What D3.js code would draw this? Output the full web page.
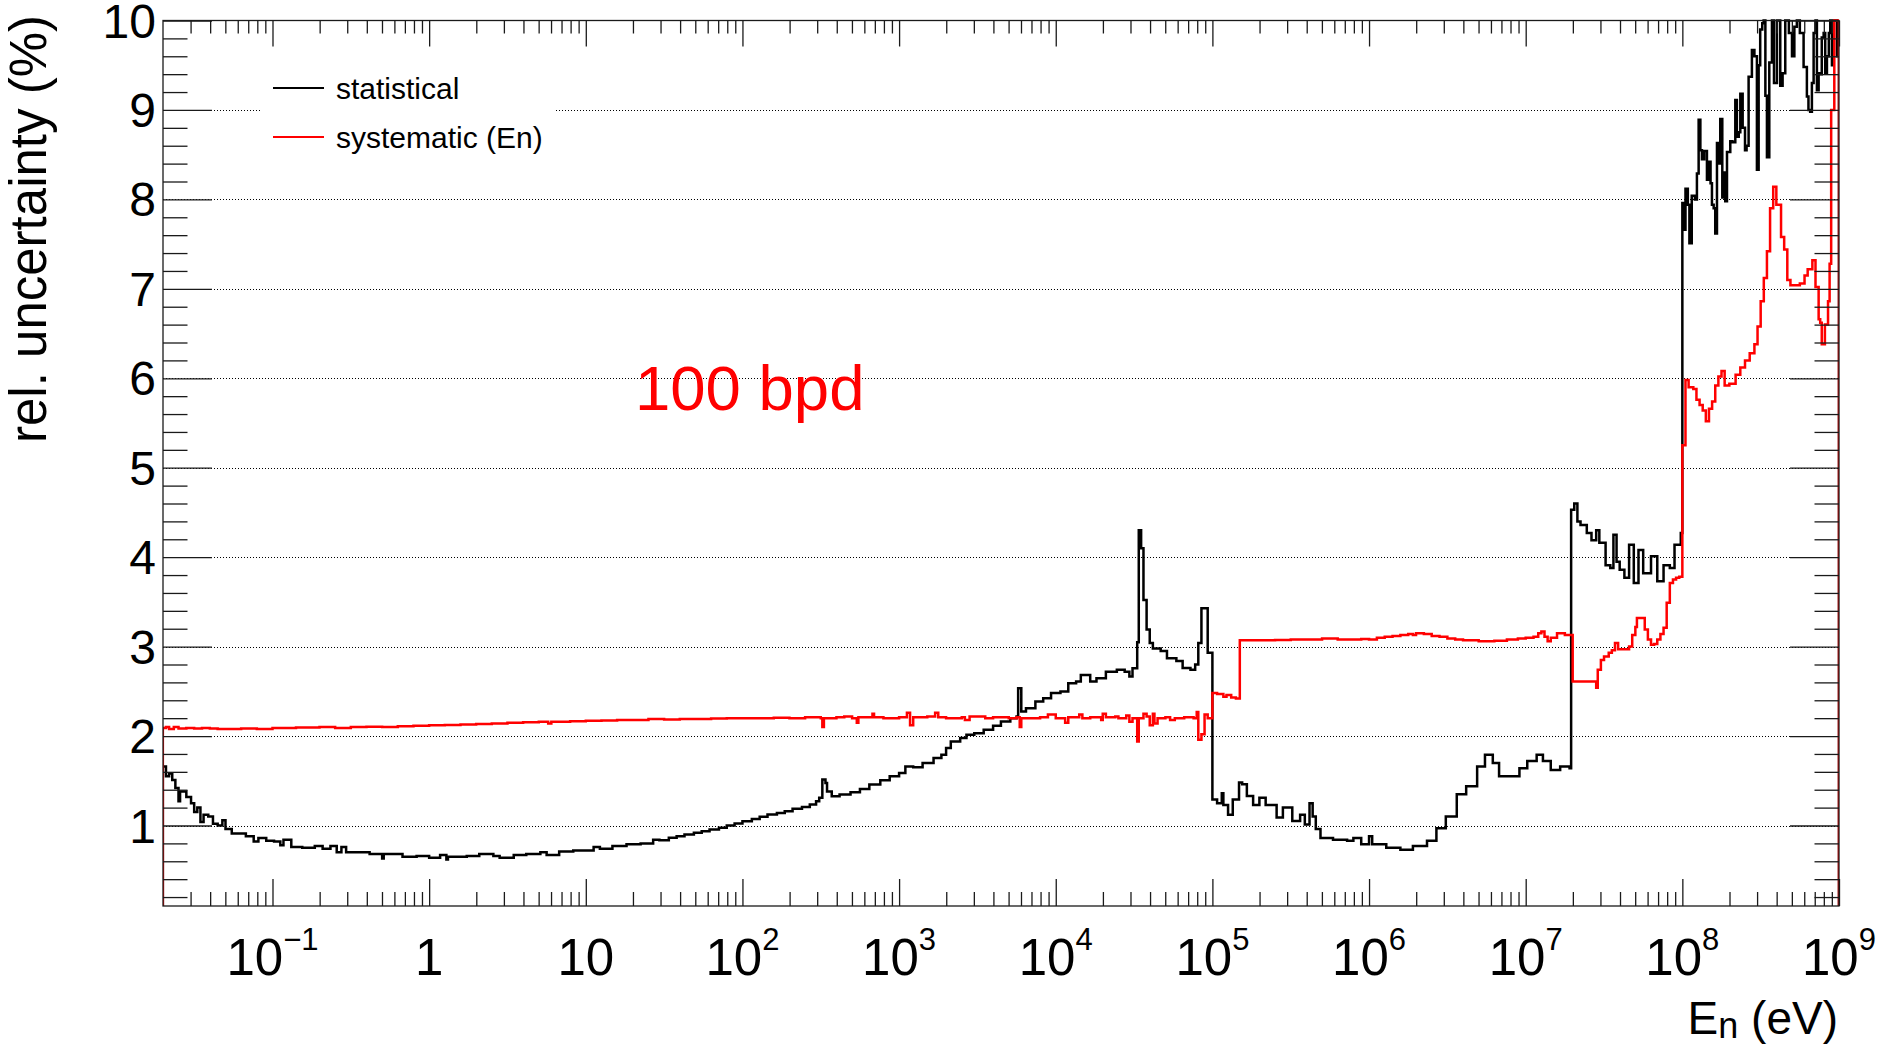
<!DOCTYPE html>
<html>
<head>
<meta charset="utf-8">
<script src="https://cdn.jsdelivr.net/npm/d3@7"></script>
<style>
  body { margin: 0; background: #fff; }
  svg { display: block; font-family: "Liberation Sans", Arial, Helvetica, sans-serif; }
</style>
</head>
<body>
<div class="js-chart"></div>
<script>
// [log10(E / eV) of bin lower edge, relative uncertainty in %]
let statistical = [
  [-1.70, 1.66], [-1.68, 1.55], [-1.66, 1.58], [-1.64, 1.51], [-1.62, 1.42], [-1.60, 1.27], [-1.59, 1.38],
  [-1.55, 1.32], [-1.52, 1.25], [-1.50, 1.15], [-1.48, 1.20], [-1.46, 1.04], [-1.44, 1.12], [-1.41, 1.10],
  [-1.38, 1.02], [-1.35, 1.00], [-1.32, 1.06], [-1.30, 0.96], [-1.26, 0.91], [-1.21, 0.91], [-1.17, 0.88],
  [-1.12, 0.82], [-1.09, 0.86], [-1.04, 0.83], [-0.99, 0.82], [-0.95, 0.78], [-0.93, 0.84], [-0.88, 0.76],
  [-0.81, 0.75], [-0.73, 0.77], [-0.68, 0.74], [-0.63, 0.77], [-0.59, 0.70], [-0.56, 0.76], [-0.53, 0.70],
  [-0.45, 0.70], [-0.38, 0.68], [-0.30, 0.63], [-0.29, 0.68], [-0.23, 0.68], [-0.17, 0.65], [-0.08, 0.66],
  [0.00, 0.64], [0.07, 0.67], [0.11, 0.62], [0.12, 0.65], [0.17, 0.65], [0.24, 0.66], [0.32, 0.68],
  [0.41, 0.66], [0.45, 0.64], [0.54, 0.67], [0.62, 0.68], [0.71, 0.70], [0.75, 0.67], [0.83, 0.71],
  [0.92, 0.72], [1.00, 0.72], [1.05, 0.76], [1.09, 0.74], [1.17, 0.77], [1.26, 0.79], [1.35, 0.80],
  [1.43, 0.84], [1.47, 0.836], [1.53, 0.862], [1.58, 0.881], [1.63, 0.90], [1.69, 0.918], [1.74, 0.937],
  [1.79, 0.955], [1.85, 0.974], [1.90, 1.00], [1.95, 1.022], [2.00, 1.048], [2.06, 1.074], [2.11, 1.097],
  [2.16, 1.123], [2.22, 1.141], [2.27, 1.16], [2.32, 1.186], [2.38, 1.208], [2.43, 1.234], [2.47, 1.271],
  [2.49, 1.31], [2.51, 1.513], [2.53, 1.476], [2.54, 1.38], [2.57, 1.327], [2.62, 1.346], [2.69, 1.372],
  [2.75, 1.409], [2.81, 1.457], [2.88, 1.506], [2.94, 1.55], [3.00, 1.587], [3.04, 1.66], [3.09, 1.65],
  [3.15, 1.70], [3.22, 1.755], [3.27, 1.79], [3.30, 1.866], [3.33, 1.94], [3.39, 1.978], [3.43, 2.015],
  [3.48, 2.03], [3.54, 2.07], [3.60, 2.115], [3.65, 2.164], [3.71, 2.20], [3.75, 2.22], [3.76, 2.535],
  [3.78, 2.275], [3.81, 2.31], [3.87, 2.387], [3.92, 2.424], [3.97, 2.48], [4.03, 2.498], [4.08, 2.59],
  [4.13, 2.61], [4.16, 2.684], [4.22, 2.61], [4.26, 2.647], [4.32, 2.72], [4.39, 2.74], [4.44, 2.72],
  [4.47, 2.665], [4.49, 2.758], [4.52, 3.05], [4.53, 4.30], [4.545, 4.10], [4.56, 3.52], [4.58, 3.19],
  [4.60, 3.04], [4.62, 2.98], [4.67, 2.95], [4.71, 2.87], [4.77, 2.84], [4.81, 2.76], [4.86, 2.74],
  [4.89, 2.80], [4.91, 3.04], [4.93, 3.43], [4.95, 3.43], [4.97, 2.93],
  [5.00, 1.29], [5.03, 1.25], [5.06, 1.36], [5.07, 1.23], [5.10, 1.12], [5.13, 1.29], [5.17, 1.48],
  [5.19, 1.46], [5.22, 1.33], [5.26, 1.23], [5.30, 1.31], [5.34, 1.23], [5.41, 1.09], [5.45, 1.20],
  [5.51, 1.05], [5.56, 1.12], [5.59, 1.01], [5.62, 1.25], [5.64, 1.10], [5.66, 0.96], [5.69, 0.86],
  [5.77, 0.84], [5.86, 0.83], [5.90, 0.86], [5.95, 0.79], [6.00, 0.88], [6.02, 0.79], [6.11, 0.75],
  [6.20, 0.73], [6.28, 0.77], [6.37, 0.83], [6.43, 0.97], [6.49, 1.10], [6.56, 1.35], [6.62, 1.44],
  [6.69, 1.66], [6.74, 1.79], [6.79, 1.70], [6.83, 1.55], [6.90, 1.55], [6.96, 1.64], [7.01, 1.72],
  [7.07, 1.79], [7.11, 1.72], [7.16, 1.62], [7.22, 1.66], [7.28, 1.64],
  [7.29, 4.53], [7.31, 4.60], [7.33, 4.40], [7.35, 4.36], [7.39, 4.27], [7.42, 4.19], [7.45, 4.30],
  [7.47, 4.16], [7.51, 3.91], [7.54, 3.88], [7.56, 4.25], [7.58, 3.95], [7.60, 3.86], [7.63, 3.77],
  [7.66, 4.14], [7.69, 3.71], [7.72, 4.08], [7.75, 3.82], [7.80, 4.01], [7.84, 3.73], [7.88, 3.91],
  [7.92, 3.88], [7.95, 4.14], [7.99, 4.27],
  [8.000, 7.96], [8.008, 7.66], [8.02, 8.12], [8.035, 7.94], [8.045, 7.51], [8.06, 8.04], [8.08, 8.00],
  [8.093, 8.29], [8.104, 8.89], [8.115, 8.55], [8.125, 8.45], [8.14, 8.54], [8.157, 8.22], [8.17, 8.42],
  [8.18, 8.18], [8.189, 7.94], [8.20, 7.90], [8.21, 7.62], [8.221, 8.63], [8.232, 8.40], [8.242, 8.90],
  [8.255, 8.02], [8.265, 8.30], [8.274, 7.98], [8.285, 8.53], [8.306, 8.65], [8.32, 8.64], [8.338, 9.11],
  [8.348, 8.70], [8.36, 8.75], [8.37, 9.18], [8.385, 8.80], [8.40, 8.55], [8.41, 8.60], [8.423, 9.37],
  [8.444, 9.67], [8.46, 9.60], [8.476, 8.33], [8.487, 9.50], [8.497, 9.90], [8.51, 9.97], [8.519, 10.0],
  [8.53, 9.16], [8.54, 8.47], [8.555, 9.53], [8.572, 10.0], [8.585, 9.30], [8.604, 10.0], [8.625, 9.27],
  [8.64, 9.41], [8.657, 10.0], [8.68, 9.86], [8.70, 9.60], [8.715, 9.93], [8.731, 10.0], [8.75, 9.86],
  [8.774, 9.48], [8.795, 9.15], [8.805, 9.00], [8.816, 8.98], [8.827, 9.30], [8.838, 9.86], [8.85, 10.0],
  [8.859, 9.22], [8.87, 9.41], [8.88, 9.40], [8.89, 9.81], [8.902, 9.86], [8.912, 9.41], [8.923, 9.60],
  [8.935, 9.86], [8.944, 10.0], [8.955, 9.50], [8.966, 10.0], [8.987, 9.60]
];

let systematic = [
  [-1.70, 2.09], [-1.68, 2.10], [-1.66, 2.08], [-1.63, 2.10], [-1.60, 2.085], [-1.55, 2.09], [-1.50, 2.085],
  [-1.45, 2.09], [-1.40, 2.085], [-1.35, 2.08], [-1.20, 2.085], [-1.10, 2.08], [-1.00, 2.09], [-0.85, 2.095],
  [-0.70, 2.10], [-0.60, 2.09], [-0.50, 2.10], [-0.40, 2.105], [-0.30, 2.10], [-0.20, 2.11], [-0.10, 2.115],
  [0.00, 2.12], [0.10, 2.125], [0.20, 2.13], [0.30, 2.135], [0.40, 2.14], [0.50, 2.15], [0.60, 2.155],
  [0.70, 2.16], [0.76, 2.14], [0.78, 2.16], [0.90, 2.165], [1.00, 2.17], [1.10, 2.175], [1.20, 2.18],
  [1.30, 2.18], [1.40, 2.19], [1.50, 2.185], [1.60, 2.19], [1.70, 2.19], [1.80, 2.195], [1.90, 2.20],
  [2.00, 2.20], [2.10, 2.20], [2.20, 2.205], [2.30, 2.20], [2.40, 2.21], [2.50, 2.20], [2.51, 2.10],
  [2.52, 2.20], [2.60, 2.21], [2.65, 2.22], [2.70, 2.20], [2.73, 2.15], [2.74, 2.21], [2.80, 2.21],
  [2.83, 2.25], [2.84, 2.21], [2.90, 2.20], [3.00, 2.21], [3.05, 2.26], [3.07, 2.12], [3.09, 2.21],
  [3.18, 2.22], [3.23, 2.26], [3.25, 2.21], [3.30, 2.20], [3.40, 2.21], [3.42, 2.18], [3.45, 2.22],
  [3.55, 2.20], [3.60, 2.21], [3.70, 2.20], [3.75, 2.21], [3.77, 2.10], [3.78, 2.20], [3.85, 2.20],
  [3.90, 2.21], [3.95, 2.24], [4.00, 2.20], [4.06, 2.15], [4.08, 2.21], [4.15, 2.24], [4.17, 2.20],
  [4.22, 2.21], [4.29, 2.18], [4.30, 2.25], [4.32, 2.21], [4.38, 2.22], [4.40, 2.20], [4.45, 2.23],
  [4.47, 2.16], [4.49, 2.20], [4.52, 1.94], [4.53, 2.20], [4.56, 2.25], [4.58, 2.22], [4.60, 2.12],
  [4.62, 2.25], [4.63, 2.14], [4.65, 2.20], [4.70, 2.21], [4.73, 2.18], [4.76, 2.20], [4.82, 2.21],
  [4.88, 2.20], [4.90, 2.27], [4.91, 1.96], [4.93, 2.02], [4.95, 2.24], [4.97, 2.20],
  [5.00, 2.48], [5.03, 2.47], [5.07, 2.44], [5.09, 2.46], [5.12, 2.43], [5.15, 2.42], [5.175, 3.07],
  [5.30, 3.07], [5.40, 3.075], [5.50, 3.08], [5.60, 3.08], [5.70, 3.09], [5.80, 3.08], [5.95, 3.085],
  [6.00, 3.08], [6.05, 3.10], [6.10, 3.11], [6.15, 3.12], [6.20, 3.13], [6.25, 3.14], [6.28, 3.13],
  [6.30, 3.15], [6.35, 3.14], [6.40, 3.12], [6.45, 3.11], [6.50, 3.09], [6.55, 3.08], [6.60, 3.07],
  [6.70, 3.06], [6.80, 3.065], [6.88, 3.08], [6.95, 3.09], [7.00, 3.10], [7.05, 3.11], [7.08, 3.15],
  [7.10, 3.17], [7.12, 3.11], [7.14, 3.06], [7.16, 3.10], [7.20, 3.15], [7.25, 3.13], [7.29, 3.13],
  [7.30, 2.61], [7.45, 2.54], [7.46, 2.74], [7.48, 2.85], [7.50, 2.89], [7.53, 2.93], [7.55, 2.96],
  [7.57, 3.04], [7.59, 2.97], [7.62, 2.97], [7.66, 3.00], [7.68, 3.13], [7.70, 3.22], [7.71, 3.32],
  [7.74, 3.32], [7.76, 3.19], [7.78, 3.08], [7.80, 3.02], [7.82, 3.03], [7.84, 3.08], [7.86, 3.14],
  [7.88, 3.21], [7.90, 3.49], [7.92, 3.71], [7.94, 3.75], [7.96, 3.77], [7.98, 3.78],
  [8.00, 5.25], [8.02, 5.98], [8.04, 5.90], [8.07, 5.88], [8.09, 5.76], [8.11, 5.70], [8.13, 5.64],
  [8.15, 5.52], [8.17, 5.66], [8.19, 5.74], [8.21, 5.92], [8.23, 6.02], [8.25, 6.08], [8.27, 5.92],
  [8.30, 5.94], [8.34, 6.04], [8.37, 6.12], [8.40, 6.20], [8.43, 6.28], [8.46, 6.38], [8.48, 6.58],
  [8.50, 6.86], [8.52, 7.12], [8.54, 7.42], [8.56, 7.90], [8.58, 8.14], [8.60, 7.94], [8.63, 7.58],
  [8.65, 7.44], [8.67, 7.10], [8.69, 7.04], [8.75, 7.06], [8.78, 7.15], [8.80, 7.22], [8.83, 7.32],
  [8.85, 7.02], [8.87, 6.66], [8.88, 6.62], [8.89, 6.38], [8.91, 6.60], [8.93, 6.86], [8.94, 7.28],
  [8.95, 9.00], [8.97, 10.0]
];

let xMajorExps = [-1, 0, 1, 2, 3, 4, 5, 6, 7, 8, 9];
let xLabelBase = ["10", "1", "10", "10", "10", "10", "10", "10", "10", "10", "10"];
let xLabelExp = ["\u22121", "", "", "2", "3", "4", "5", "6", "7", "8", "9"];
let yTicks = [1, 2, 3, 4, 5, 6, 7, 8, 9, 10];

let legendItems = [
  {label: "statistical", color: "#000000"},
  {label: "systematic (En)", color: "#ff0000"}
];

let width = 1880,
    height = 1045,
    eMin = 0.02, eMax = 1e9,
    plotLeft = 163, plotRight = 1839, plotTop = 20.5, plotBottom = 906;

let axisColor = "#1a1a1a";

let x = d3.scaleLog().domain([eMin, eMax]).range([plotLeft, plotRight]);
let y = d3.scaleLinear().domain([0.1, 10]).range([plotBottom, plotTop]);

let svg = d3.select('.js-chart').append('svg')
    .attr('width', width)
    .attr('height', height);
svg.append('rect').attr('width', width).attr('height', height).attr('fill', '#fff');

// dotted horizontal grid
svg.append('g')
    .selectAll('line')
    .data(yTicks.filter(d => d < 10))
    .join('line')
    .attr('x1', plotLeft).attr('x2', plotRight)
    .attr('y1', d => Math.round(y(d)) + 0.5).attr('y2', d => Math.round(y(d)) + 0.5)
    .attr('stroke', '#000')
    .attr('stroke-width', 1)
    .attr('stroke-dasharray', '1,2');

// histograms
svg.append('clipPath').attr('id', 'plot-clip')
    .append('rect')
    .attr('x', plotLeft).attr('y', plotTop - 1.5)
    .attr('width', plotRight - plotLeft).attr('height', plotBottom - plotTop + 1.5);

function histPoints(data) {
  let pts = [[data[0][0], 0]].concat(data);
  pts.push([Math.log10(eMax), data[data.length - 1][1]]);
  pts.push([Math.log10(eMax), 0]);
  return pts;
}

let line = d3.line()
    .x(d => x(Math.pow(10, d[0])))
    .y(d => y(Math.min(d[1], 10)))
    .curve(d3.curveStepAfter);

let hist = svg.append('g').attr('clip-path', 'url(#plot-clip)');
hist.append('path')
    .attr('d', line(histPoints(statistical)))
    .attr('fill', 'none')
    .attr('stroke', '#000')
    .attr('stroke-width', 2.5);
hist.append('path')
    .attr('d', line(histPoints(systematic)))
    .attr('fill', 'none')
    .attr('stroke', '#ff0000')
    .attr('stroke-width', 2.5);

// minor tick values
let xMinor = [];
for (let k = -2; k <= 8; k++) {
  for (let m = 2; m <= 9; m++) {
    let v = m * Math.pow(10, k);
    if (v > eMin && v < eMax) xMinor.push(v);
  }
}
let yMinor = d3.range(1, 50).map(i => i / 5).filter(v => Math.abs(v - Math.round(v)) > 1e-6);

function ticks(axis, tx, ty) {
  svg.append('g')
      .attr('transform', `translate(${tx},${ty})`)
      .call(axis)
      .call(g => g.select('.domain').remove())
      .call(g => g.selectAll('text').remove())
      .call(g => g.selectAll('line').attr('stroke', axisColor).attr('stroke-width', 1.3));
}

let xMajor = xMajorExps.map(e => Math.pow(10, e));
ticks(d3.axisBottom(x).tickValues(xMajor).tickSize(-27), 0, plotBottom);
ticks(d3.axisBottom(x).tickValues(xMinor).tickSize(-14), 0, plotBottom);
ticks(d3.axisTop(x).tickValues(xMajor).tickSize(-26), 0, plotTop);
ticks(d3.axisTop(x).tickValues(xMinor).tickSize(-13), 0, plotTop);
ticks(d3.axisLeft(y).tickValues(yTicks).tickSize(-49), plotLeft, 0);
ticks(d3.axisLeft(y).tickValues(yMinor).tickSize(-24.5), plotLeft, 0);
ticks(d3.axisRight(y).tickValues(yTicks).tickSize(-49), plotRight, 0);
ticks(d3.axisRight(y).tickValues(yMinor).tickSize(-24.5), plotRight, 0);

// frame
svg.append('rect')
    .attr('x', plotLeft).attr('y', plotTop)
    .attr('width', plotRight - plotLeft).attr('height', plotBottom - plotTop)
    .attr('fill', 'none')
    .attr('stroke', axisColor)
    .attr('stroke-width', 1.3);

// x tick labels with exponents
svg.append('g')
    .attr('font-size', 51)
    .attr('text-anchor', 'middle')
    .selectAll('text')
    .data(xMajorExps)
    .join('text')
    .attr('x', d => x(Math.pow(10, d)))
    .attr('y', 975)
    .each(function(d, i) {
      let t = d3.select(this);
      t.append('tspan').text(xLabelBase[i]);
      if (xLabelExp[i]) t.append('tspan').attr('dy', -25).attr('font-size', 31).text(xLabelExp[i]);
    });

// y tick labels
svg.append('g')
    .attr('font-size', 48)
    .attr('text-anchor', 'end')
    .selectAll('text')
    .data(yTicks)
    .join('text')
    .attr('x', 156)
    .attr('y', d => y(d) + 17)
    .text(d => d);

// axis titles
svg.append('text')
    .attr('transform', 'translate(46,15) rotate(-90)')
    .attr('text-anchor', 'end')
    .attr('font-size', 51)
    .text('rel. uncertainty (%)');

let xTitle = svg.append('text')
    .attr('x', 1838).attr('y', 1034)
    .attr('text-anchor', 'end')
    .attr('font-size', 46);
xTitle.append('tspan').text('E');
xTitle.append('tspan').attr('font-size', 36).attr('dy', 4).text('n');
xTitle.append('tspan').attr('dy', -4).text(' (eV)');

// legend
let legend = svg.append('g');
legend.append('rect')
    .attr('x', 260).attr('y', 62).attr('width', 295).attr('height', 104)
    .attr('fill', '#fff');
let entry = legend.selectAll('g')
    .data(legendItems)
    .join('g')
    .attr('transform', (d, i) => `translate(0,${88 + i * 49})`);
entry.append('line')
    .attr('x1', 273).attr('x2', 324)
    .attr('stroke', d => d.color)
    .attr('stroke-width', 2.2);
entry.append('text')
    .attr('x', 336).attr('y', 11)
    .attr('font-size', 30)
    .attr('fill', '#000')
    .text(d => d.label);

// annotation
svg.append('text')
    .attr('x', x(20.6)).attr('y', y(5.64))
    .attr('font-size', 63.5)
    .attr('fill', '#ff0000')
    .text('100 bpd');
</script>
</body>
</html>
